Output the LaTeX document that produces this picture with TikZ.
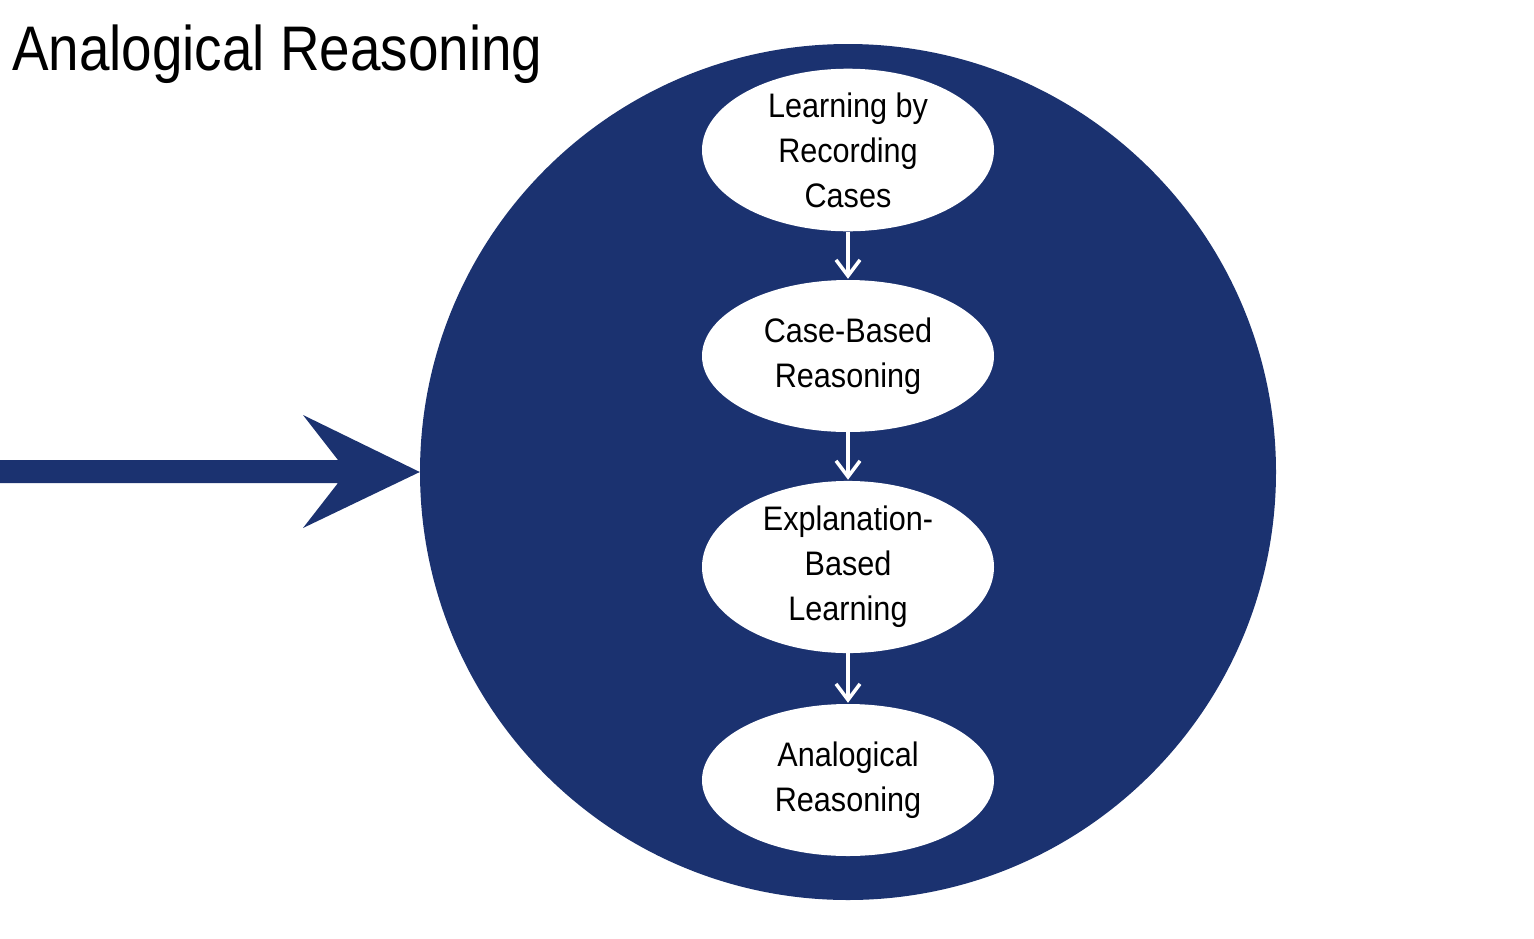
\documentclass[tikz,border=0pt]{standalone}
\usepackage{fontspec}
\setmainfont{Liberation Sans}
\newfontfamily\narrowfont{Liberation Sans}[FakeStretch=0.87]
\newfontfamily\stagefont{Liberation Sans}[FakeStretch=0.9]
\usetikzlibrary{shapes.geometric,arrows.meta}
\definecolor{navy}{RGB}{27,50,112}
\tikzset{
  stage/.style={ellipse, fill=white, minimum width=292pt, minimum height=152pt,
    inner sep=0pt, align=center, font=\stagefont\fontsize{34}{45}\selectfont},
  flow/.style={draw=white, line width=3.5pt,
    -{Straight Barb[length=16pt,width=24pt,line width=3.5pt]}, shorten >=1pt}
}
\begin{document}
\begin{tikzpicture}[x=1pt,y=-1pt]
\useasboundingbox (0,0) rectangle (1534,938);
\node[anchor=base west, inner sep=0pt, font=\narrowfont\fontsize{63}{70}\selectfont] (title) at (12,70) {Analogical Reasoning};
\node[circle, fill=navy, minimum size=856pt, inner sep=0pt] (big) at (848,472) {};
\fill[navy] (0,460) -- (338,460) -- (303,415) -- (big.west) -- (303,528) -- (338,483) -- (0,483) -- cycle;
\node[stage] (s1) at (848,150) {Learning by\\Recording\\Cases};
\node[stage] (s2) at (848,356) {Case-Based\\Reasoning};
\node[stage] (s3) at (848,567) {Explanation-\\Based\\Learning};
\node[stage] (s4) at (848,780) {Analogical\\Reasoning};
\draw[flow] (s1) -- (s2);
\draw[flow] (s2) -- (s3);
\draw[flow] (s3) -- (s4);
\end{tikzpicture}
\end{document}
